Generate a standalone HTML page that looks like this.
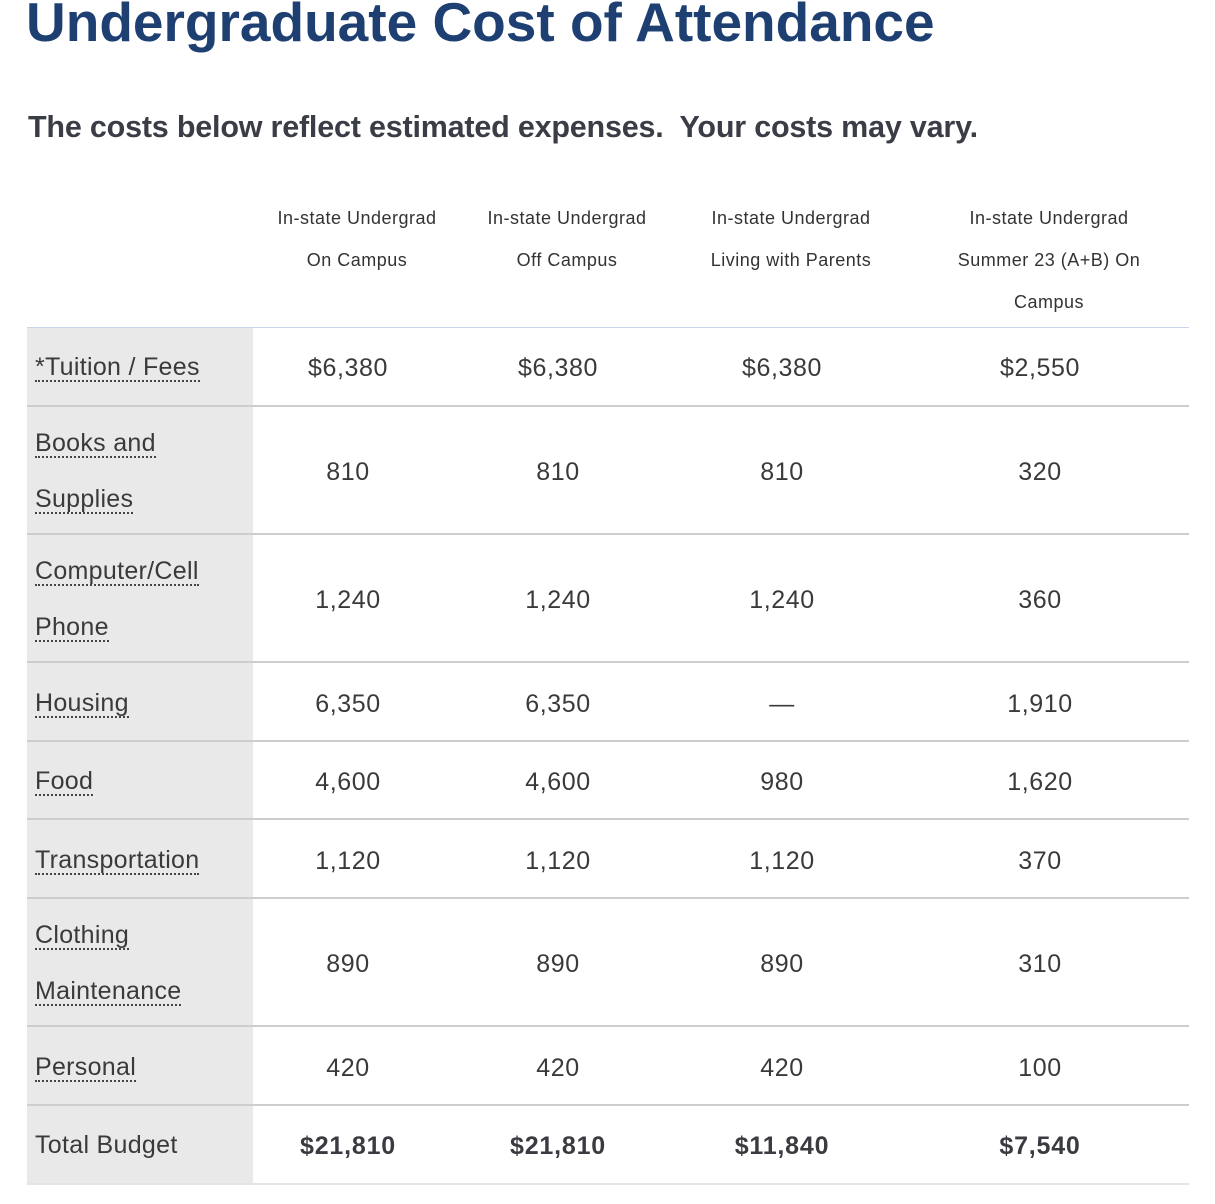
<!DOCTYPE html>
<html><head><meta charset="utf-8">
<style>
body{margin:0;background:#fff;width:1215px;height:1204px;overflow:hidden;position:relative;font-family:"Liberation Sans",sans-serif;color:#3a3b40}
.abs{position:absolute;white-space:nowrap}
#title{left:26px;top:-10px;font-size:55px;font-weight:bold;color:#1e3f72;letter-spacing:0px}
#sub{left:28px;top:110px;font-size:30.5px;font-weight:bold;color:#3a3d45;letter-spacing:-0.2px}
.hd{font-size:18px;color:#333;text-align:center;width:240px;line-height:42px;letter-spacing:0.5px}
.lab{font-size:25px;color:#3a3a3a;border-bottom:2px dotted #444;line-height:26px;letter-spacing:0.3px}
.val{font-size:25px;color:#3a3a3a;text-align:center;width:200px;line-height:26px;letter-spacing:0.6px}
.bold{font-weight:bold;color:#3a3b40;letter-spacing:0.8px}
</style></head><body>
<div id="title" class="abs">Undergraduate Cost of Attendance</div>
<div id="sub" class="abs">The costs below reflect estimated expenses.&nbsp; Your costs may vary.</div>
<div id="table"></div>
<script>
const headers=[["In-state Undergrad","On Campus"],["In-state Undergrad","Off Campus"],["In-state Undergrad","Living with Parents"],["In-state Undergrad","Summer 23 (A+B) On","Campus"]];
const labels=[["*Tuition / Fees"],["Books and","Supplies"],["Computer/Cell","Phone"],["Housing"],["Food"],["Transportation"],["Clothing","Maintenance"],["Personal"],["Total Budget"]];
const onCampus=["$6,380","810","1,240","6,350","4,600","1,120","890","420","$21,810"];
const offCampus=["$6,380","810","1,240","6,350","4,600","1,120","890","420","$21,810"];
const withParents=["$6,380","810","1,240","—","980","1,120","890","420","$11,840"];
const summer=["$2,550","320","360","1,910","1,620","370","310","100","$7,540"];
const series=[onCampus,offCampus,withParents,summer];
const colCenters=[348,558,782,1040];
const t=document.getElementById('table');
function add(cls,style,text){const d=document.createElement('div');d.className='abs '+cls;d.setAttribute('style',style);if(text!==undefined)d.textContent=text;t.appendChild(d);return d;}
headers.forEach((h,i)=>{
  const d=add('hd','left:'+(colCenters[i]+9-120)+'px;top:197px;');
  d.innerHTML=h.join('<br>');
  
  
});
const hl=add('', 'left:27px;top:327px;width:1162px;height:1px;background:#c9d6ea');


let y=328;
labels.forEach((lab,r)=>{
  const h=lab.length>1?128.3:78.6;
  const isTotal=r===labels.length-1;
  const bg=add('','left:27px;top:'+y+'px;width:226px;height:'+h+'px;background:#e9e9e9');
  
  
  const bt=y+h-1;
  const ln=add('','left:27px;top:'+(bt-1)+'px;width:1162px;height:2px;background:'+(isTotal?'#e4e4e4':'#cdcdcd'));
  
  
  const cy=y+h/2;
  lab.forEach((txt,k)=>{
    const ly=cy+(lab.length>1?(k===0?-28:28):0);
    const d=add('lab','left:35px;top:'+(ly-13)+'px;'+(isTotal?'border-bottom:none;':''),txt);
    
    
  });
  series.forEach((s,c)=>{
    const d=add('val'+(isTotal?' bold':''),'left:'+(colCenters[c]-100)+'px;top:'+(cy-12)+'px;',s[r]);
    
    
  });
  y+=h;
});
</script>
</body></html>
